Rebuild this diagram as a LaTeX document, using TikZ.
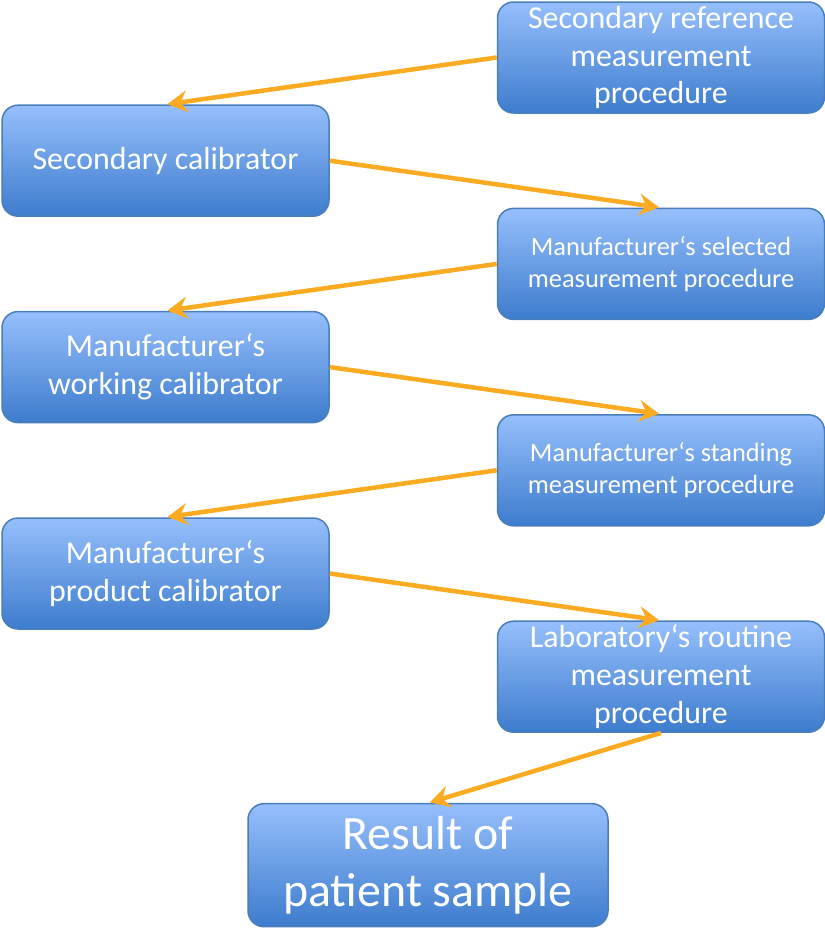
\documentclass[tikz,border=0pt]{standalone}
\usepackage{fontspec}
\setmainfont{Carlito}
\usepackage{xcolor}
\usepackage{tikz}
\usetikzlibrary{arrows.meta,positioning}

\definecolor{boxtop}{HTML}{96BFFC}
\definecolor{boxbottom}{HTML}{3D7CCD}
\definecolor{boxline}{HTML}{4A7EBB}
\definecolor{arrorange}{HTML}{FAAB22}

\begin{document}
\begin{tikzpicture}[
  node distance=-9.3bp and 167bp,
  step box/.style={rectangle, rounded corners=16bp, draw=boxline, line width=1.5bp,
    top color=boxtop, bottom color=boxbottom, text=white, align=center,
    minimum width=327bp, minimum height=111bp, inner sep=0pt},
  big/.style={font=\fontsize{32}{38}\selectfont},
  small/.style={font=\fontsize{26.5}{32}\selectfont},
  arr/.style={-{Stealth[length=20bp, width=22bp, inset=7bp]}, line width=4.5bp, draw=arrorange, shorten >=2bp}
]
  \useasboundingbox (0,0) rectangle (825bp,-930bp);

  \node[step box, big] (refproc) at (661bp,-57.5bp) {Secondary reference\\measurement\\procedure};
  \node[step box, big, below left=of refproc] (seccal) {Secondary calibrator};
  \node[step box, small, below right=of seccal] (selproc) {Manufacturer‘s selected\\measurement procedure};
  \node[step box, big, below left=of selproc] (workcal) {Manufacturer‘s\\working calibrator};
  \node[step box, small, below right=of workcal] (standproc) {Manufacturer‘s standing\\measurement procedure};
  \node[step box, big, below left=of standproc] (prodcal) {Manufacturer‘s\\product calibrator};
  \node[step box, big, below right=of prodcal] (labproc) {Laboratory‘s routine\\measurement\\procedure};
  \node[step box, font=\fontsize{48}{57}\selectfont, minimum width=360bp, minimum height=123bp,
    below=70bp of labproc, xshift=-233bp] (result) {Result of\\patient sample};

  \draw[arr] (refproc.west) -- (seccal.north);
  \draw[arr] (seccal.east) -- (selproc.north);
  \draw[arr] (selproc.west) -- (workcal.north);
  \draw[arr] (workcal.east) -- (standproc.north);
  \draw[arr] (standproc.west) -- (prodcal.north);
  \draw[arr] (prodcal.east) -- (labproc.north);
  \draw[arr] (labproc.south) -- (result.north);
\end{tikzpicture}
\end{document}
